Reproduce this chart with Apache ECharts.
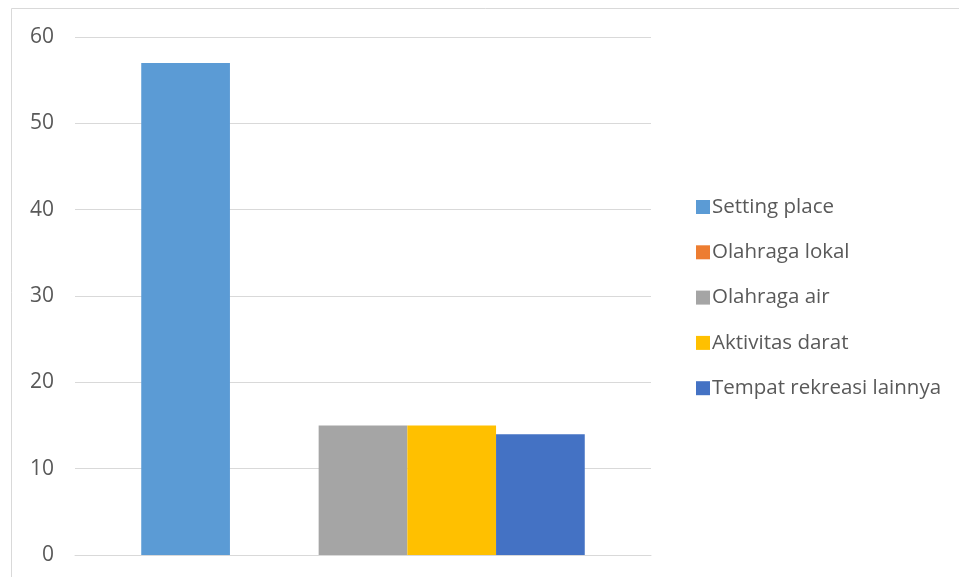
<!DOCTYPE html>
<html>
<head>
<meta charset="utf-8">
<script src="https://cdn.jsdelivr.net/npm/echarts@6/dist/echarts.min.js"></script>
<style>
html,body{margin:0;padding:0;background:#fff;}
#chart{width:959px;height:577px;}
</style>
</head>
<body>
<div id="chart"></div>
<script>
const categories = [''];
const seriesNames = ['Setting place', 'Olahraga lokal', 'Olahraga air', 'Aktivitas darat', 'Tempat rekreasi lainnya'];
const seriesValues = [57, 0, 15, 15, 14];
const seriesColors = ['#5B9BD5', '#ED7D31', '#A5A5A5', '#FFC000', '#4472C4'];
const yTicks = { min: 0, max: 60, interval: 10 };

const chart = echarts.init(document.getElementById('chart'));
const font = '"Open Sans", "Noto Sans", sans-serif';
chart.setOption({
  animation: false,
  backgroundColor: '#fff',
  graphic: [
    { type: 'line', shape: { x1: 11.5, y1: 8.5, x2: 11.5, y2: 577 }, style: { stroke: '#D9D9D9', lineWidth: 1 } },
    { type: 'line', shape: { x1: 11.5, y1: 8.5, x2: 959, y2: 8.5 }, style: { stroke: '#D9D9D9', lineWidth: 1 } }
  ],
  grid: { left: 75, right: 308, top: 37, bottom: 22, containLabel: false },
  legend: {
    orient: 'vertical',
    left: 691,
    top: 190,
    itemWidth: 14,
    itemHeight: 14,
    itemGap: 21.3,
    icon: 'rect',
    textStyle: { fontFamily: font, fontSize: 20.5, color: '#595959', lineHeight: 24, padding: [0, 0, 0, -3] },
    data: seriesNames
  },
  xAxis: {
    type: 'category',
    data: categories,
    axisLine: { lineStyle: { color: '#D9D9D9', width: 1 } },
    axisTick: { show: false },
    axisLabel: { show: false }
  },
  yAxis: {
    type: 'value',
    min: yTicks.min, max: yTicks.max, interval: yTicks.interval,
    axisLine: { show: false },
    axisTick: { show: false },
    splitLine: { lineStyle: { color: '#D9D9D9', width: 1 } },
    axisLabel: { fontFamily: font, fontSize: 21, color: '#595959', margin: 21 }
  },
  series: seriesNames.map((name, i) => ({
    name: name,
    type: 'bar',
    data: [seriesValues[i]],
    itemStyle: { color: seriesColors[i] },
    barGap: '0%',
    barCategoryGap: '23%'
  }))
});
</script>
</body>
</html>
